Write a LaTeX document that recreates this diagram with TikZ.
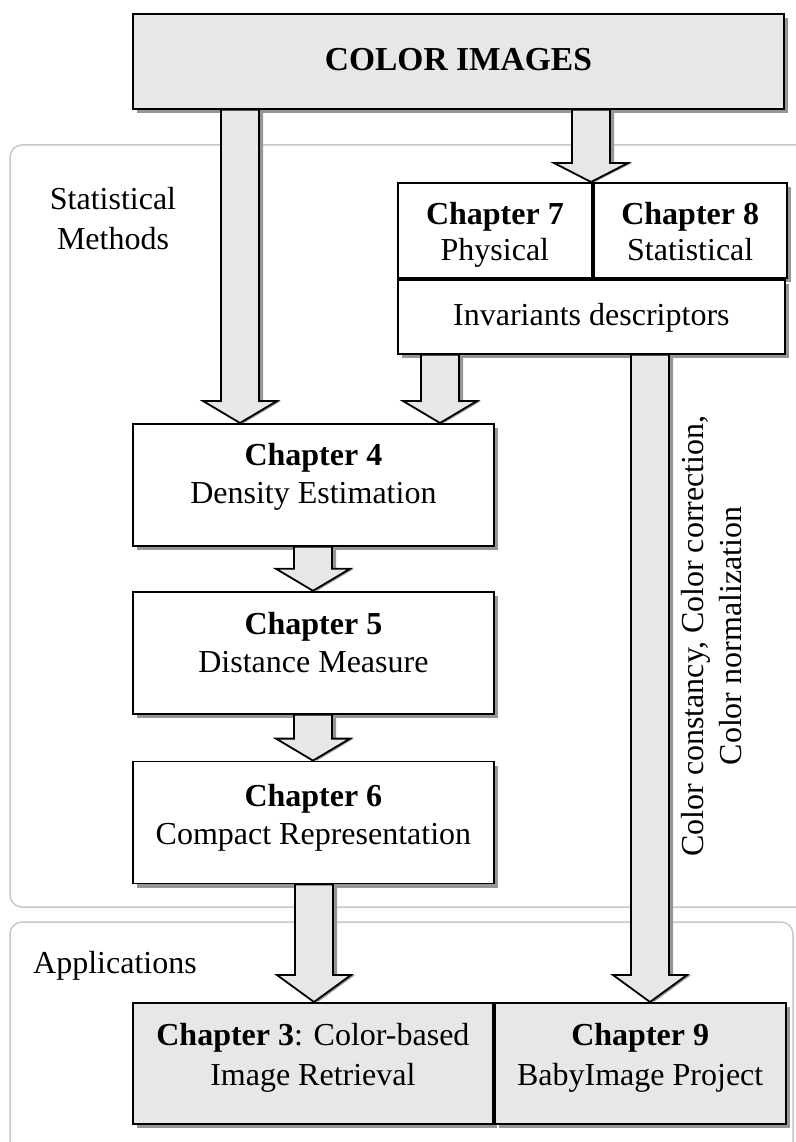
\documentclass[tikz,border=0pt]{standalone}
\usepackage{fontspec}
\setmainfont{Liberation Serif}
\usetikzlibrary{positioning,calc,shadows}

\definecolor{boxgray}{RGB}{230,231,233}
\definecolor{shadowgray}{RGB}{150,150,150}
\definecolor{regiongray}{RGB}{200,200,200}

\pgfdeclarelayer{back}
\pgfsetlayers{back,main}

% two centred lines, baseline on the first one
\newcommand{\twoline}[2]{\begin{tabular}[t]{@{}c@{}}#1\\#2\end{tabular}}

% block arrow outline: head length, x, from node, to node
\newcommand{\arrowpath}[4]{let \p1=(#3.south), \p2=(#4.north) in
  (#2pt-19pt,\y1) -- (#2pt-19pt,\y2+#1pt) -- (#2pt-37pt,\y2+#1pt) -- (#2pt,\y2)
  -- (#2pt+37pt,\y2+#1pt) -- (#2pt+19pt,\y2+#1pt) -- (#2pt+19pt,\y1) -- cycle}
\newcommand{\bigarrow}[4][22]{%
  \begin{pgfonlayer}{back}
    \fill[shadowgray, xshift=4pt, yshift=-4pt] \arrowpath{#1}{#2}{#3}{#4};
  \end{pgfonlayer}
  \draw[blockarrow] \arrowpath{#1}{#2}{#3}{#4};
}

\begin{document}
\begin{tikzpicture}[
  x=1pt, y=-1pt,
  node distance=44pt and 0pt,
  chapbox/.style={draw, line width=1.8pt, fill=white, inner sep=0pt,
                  font=\fontsize{32}{38}\selectfont, minimum height=122pt,
                  text height=27pt, text depth=63pt,
                  general shadow={shadow xshift=4pt, shadow yshift=-4pt, fill=shadowgray}},
  graybox/.style={chapbox, fill=boxgray},
  region/.style={draw=regiongray, line width=1.5pt, rounded corners=12pt},
  lbl/.style={align=center, inner sep=0pt, font=\fontsize{32}{40}\selectfont},
  blockarrow/.style={draw, line width=1.8pt, fill=boxgray, line join=miter}
]
  \useasboundingbox (0,0) rectangle (795,1142);
  \clip (0,0) rectangle (795,1142);

  % the two groups
  \begin{pgfonlayer}{back}
    \draw[region] (10,145) rectangle (815,907);
    \draw[region] (10,922) rectangle (793,1170);
  \end{pgfonlayer}
  \node[lbl] (statlbl) at (113,219) {Statistical\\Methods};
  \node[lbl, anchor=base west] (applbl) at (33,973) {Applications};

  \node[graybox, anchor=north west, minimum width=651pt, minimum height=95pt,
        text depth=8pt, font=\fontsize{33.5}{38}\selectfont\bfseries] (colorimg) at (132,13)
    {COLOR IMAGES};

  \node[chapbox, anchor=north west, minimum width=194pt, minimum height=95pt, text depth=38pt,
        font=\fontsize{32}{36}\selectfont] (ch7) at (397,182)
    {\twoline{\textbf{Chapter 7}}{Physical}};
  \node[chapbox, right=of ch7, minimum width=193pt, minimum height=95pt, text depth=38pt,
        font=\fontsize{32}{36}\selectfont] (ch8)
    {\twoline{\textbf{Chapter 8}}{Statistical}};
  \node[chapbox, anchor=north west, minimum width=387pt, minimum height=74pt, text depth=9pt] (inv)
    at (ch7.south west) {Invariants descriptors};

  \node[chapbox, anchor=north west, minimum width=361pt, text depth=65pt] (ch4) at (132,423)
    {\twoline{\textbf{Chapter 4}}{Density Estimation}};
  \node[chapbox, below=of ch4, minimum width=361pt] (ch5)
    {\twoline{\textbf{Chapter 5}}{Distance Measure}};
  \node[chapbox, below=46pt of ch5, minimum width=361pt, text depth=60pt] (ch6)
    {\twoline{\textbf{Chapter 6}}{Compact Representation}};

  \node[graybox, anchor=north west, minimum width=360pt, minimum height=121pt, text depth=62pt,
        font=\fontsize{32}{40}\selectfont] (ch3) at (132,1002)
    {\twoline{\textbf{Chapter 3}: Color-based}{Image Retrieval}};
  \node[graybox, right=of ch3, minimum width=291pt, minimum height=121pt, text depth=62pt,
        font=\fontsize{32}{40}\selectfont] (ch9)
    {\twoline{\textbf{Chapter 9}}{BabyImage Project}};

  \node[lbl, rotate=90, font=\fontsize{32}{38}\selectfont] (corr) at (712,636)
    {Color constancy, Color correction,\\Color normalization};

  \bigarrow{240}{colorimg}{ch4}
  \bigarrow[19]{591}{colorimg}{ch7}
  \bigarrow{440}{inv}{ch4}
  \bigarrow{313}{ch4}{ch5}
  \bigarrow{313}{ch5}{ch6}
  \bigarrow[27]{314}{ch6}{ch3}
  \bigarrow[27]{650}{inv}{ch9}
\end{tikzpicture}
\end{document}
